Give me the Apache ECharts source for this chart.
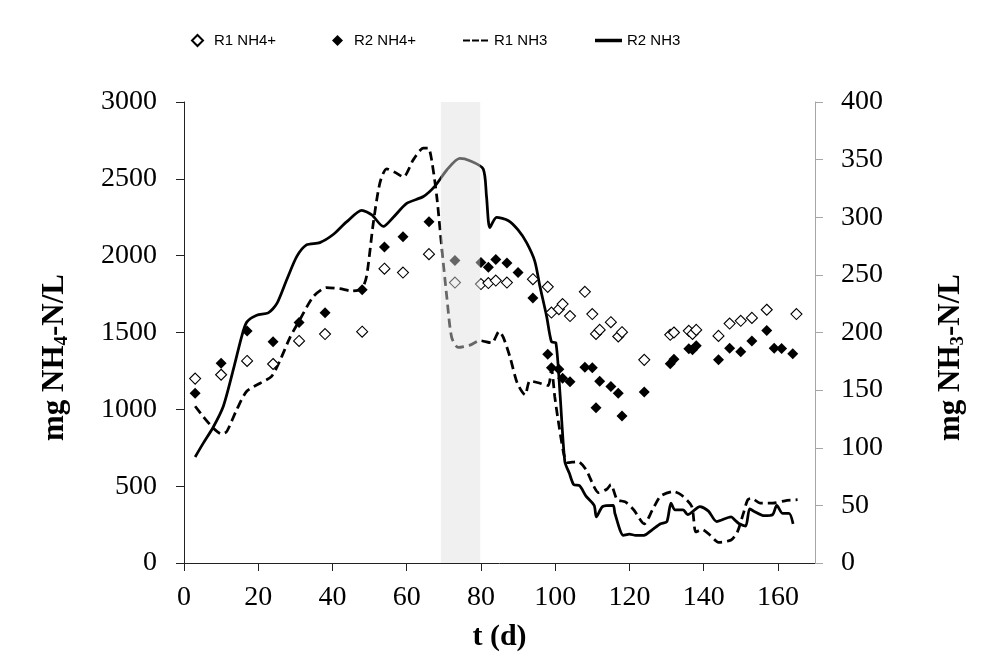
<!DOCTYPE html>
<html>
<head>
<meta charset="utf-8">
<script src="https://cdn.jsdelivr.net/npm/echarts@6/dist/echarts.min.js"></script>
<style>
    html, body { margin: 0; padding: 0; background: #fff; }
    #nh3Chart { width: 1005px; height: 661px; }
</style>
</head>
<body>
<div id="nh3Chart"></div>
<script>
var r1Nh4Days = [3, 10, 17, 24, 31, 38, 48, 54, 59, 66, 73, 80, 82, 84, 87, 94, 98, 99, 101, 102, 104, 108, 110, 111, 112, 115, 117, 118, 124, 131, 132, 136, 137, 138, 144, 147, 150, 153, 157, 165];
var r1Nh4Vals = [1200, 1225, 1315, 1295, 1445, 1490, 1505, 1915, 1890, 2010, 1825, 1815, 1822, 1838, 1825, 1847, 1797, 1630, 1652, 1685, 1607, 1765, 1620, 1491, 1517, 1567, 1474, 1502, 1322, 1485, 1500, 1511, 1491, 1517, 1478, 1558, 1576, 1595, 1648, 1620];

var r2Nh4Days = [3, 10, 17, 24, 31, 38, 48, 54, 59, 66, 73, 80, 82, 84, 87, 90, 94, 98, 99, 101, 102, 104, 108, 110, 111, 112, 115, 117, 118, 124, 131, 132, 136, 137, 138, 144, 147, 150, 153, 157, 159, 161, 164];
var r2Nh4Vals = [1105, 1300, 1509, 1439, 1565, 1628, 1778, 2056, 2123, 2221, 1969, 1956, 1925, 1975, 1952, 1891, 1724, 1359, 1270, 1261, 1203, 1179, 1274, 1270, 1011, 1183, 1148, 1105, 957, 1112, 1296, 1326, 1394, 1387, 1413, 1322, 1398, 1374, 1444, 1513, 1398, 1396, 1361];

var r1Nh3Days = [3, 5.2, 7.9, 10.1, 11.5, 14.2, 16.9, 20.5, 23.6, 25.9, 28.6, 31.2, 34.8, 38.4, 42, 45.2, 47.9, 49.2, 51, 52.8, 54.6, 56.8, 59.1, 61.8, 64.5, 65.8, 66.7, 68.1, 69.4, 70.8, 72.1, 73.9, 77, 79.7, 82.9, 84.9, 86, 87.8, 89.8, 91.9, 93.2, 95.9, 98.1, 99, 99.9, 100.8, 102.3, 103.3, 106.1, 108.3, 110.5, 111.7, 113.9, 115, 116.7, 118.9, 121.2, 124, 126.2, 128.4, 131.8, 134, 136.8, 137.9, 139.6, 141.8, 144, 147.4, 149.1, 150.7, 151.9, 153, 155.2, 158.6, 161.9, 165.3];
var r1Nh3Vals = [136, 127, 117, 112, 114, 133, 149, 156, 162, 176, 196, 211, 231, 239, 238, 236, 238, 249, 295, 330, 342, 339, 335, 350, 360, 360, 350, 318, 275, 231, 196, 187, 189, 193, 191, 201, 196, 179, 156, 146, 158, 156, 154, 168, 144, 124, 95, 87, 88, 81, 66, 61, 64, 68, 55, 53, 46, 34, 46, 58, 62, 59, 49, 27, 29, 24, 18, 20, 27, 43, 55, 56, 52, 52, 54, 55];

var r2Nh3Days = [3, 5.2, 7.9, 10.6, 13.3, 15.5, 16.9, 19.6, 22.7, 25, 27.7, 30.4, 33, 36.6, 40.2, 43.8, 47.9, 50.6, 53.7, 56.4, 60, 64.5, 67.6, 70.8, 74.3, 77, 80.6, 81.5, 82.4, 84.2, 87.4, 90, 92.3, 94.5, 95.9, 97.7, 99, 100.2, 101.3, 102.6, 103.8, 105, 106.6, 108.3, 110.5, 111.1, 112.8, 115.6, 116.1, 118.4, 120, 121.7, 123.9, 126.2, 128.4, 130.1, 131.2, 132.3, 134.5, 135.7, 139, 141.3, 143.5, 147.4, 148.5, 149.6, 151.3, 152.4, 153.5, 156.3, 158.6, 159.7, 161.3, 163, 164.1];
var r2Nh3Vals = [92, 104, 118, 136, 168, 196, 209, 215, 217, 225, 246, 266, 276, 278, 285, 296, 306, 302, 292, 300, 312, 318, 327, 341, 351, 349, 342, 318, 291, 300, 297, 289, 278, 262, 240, 214, 192, 191, 147, 88, 78, 68, 67, 58, 50, 40, 49, 50, 43, 24, 25, 24, 24, 29, 34, 36, 52, 46, 46, 42, 49, 45, 36, 40, 37, 34, 32, 47, 45, 41, 42, 50, 43, 43, 34];

var xTicks = [0, 20, 40, 60, 80, 100, 120, 140, 160];
var shadeDays = [69.2, 79.8];

var serif = "'Liberation Serif', 'Times New Roman', serif";
var sans = "'Liberation Sans', Arial, sans-serif";

function pairs(xs, ys) {
    return xs.map(function (x, i) { return [x, ys[i]]; });
}

function legendAt(name, left, icon, iconW, iconH, textPad) {
    var leg = {
        data: [name],
        left: left,
        top: 33,
        padding: 0,
        itemWidth: iconW,
        itemHeight: iconH,
        selectedMode: false,
        textStyle: {
            fontFamily: sans,
            fontSize: 15,
            color: '#000',
            padding: [0, 0, 0, textPad]
        }
    };
    if (icon) {
        leg.icon = icon;
        leg.itemStyle = { color: '#000', borderWidth: 0 };
    }
    return leg;
}

function createNh3Chart() {
    var dom = document.getElementById("nh3Chart");
    var myChart = echarts.init(dom, null, { renderer: 'canvas' });

    var nameStyle = {
        fontFamily: serif,
        fontSize: 31,
        fontWeight: 'bold',
        color: '#000',
        padding: [0, 50, 0, 0],
        rich: {
            m: { fontFamily: serif, fontSize: 31, fontWeight: 'bold', color: '#000', lineHeight: 33, verticalAlign: 'top' },
            s: { fontFamily: serif, fontSize: 19, fontWeight: 'bold', color: '#000', lineHeight: 21, padding: [17, 0, 0, 0], verticalAlign: 'bottom' }
        }
    };

    // dash icons for the line legends (the line series icon would add a dot)
    var dashIcon = 'path://M0,0h7v2h-7z M9,0h7v2h-7z M18,0h7v2h-7z';
    var solidIcon = 'rect';

    var option = {
        animation: false,
        backgroundColor: '#fff',
        grid: {
            left: 184,
            right: 190,
            top: 102,
            bottom: 98,
            outerBoundsMode: 'none'
        },
        legend: [
            legendAt('R1 NH4+', 191, null, 11, 11, 6),
            legendAt('R2 NH4+', 332, null, 11, 11, 6),
            legendAt('R1 NH3', 463, dashIcon, 25, 3.5, 1),
            legendAt('R2 NH3', 595, solidIcon, 27, 3.5, 0)
        ],
        xAxis: {
            type: 'value',
            min: 0,
            max: 170,
            name: 't (d)',
            nameLocation: 'middle',
            nameGap: 59,
            nameTextStyle: { fontFamily: serif, fontSize: 30, fontWeight: 'bold', color: '#000' },
            splitLine: { show: false },
            axisLine: { show: true, lineStyle: { color: '#222', width: 1 } },
            axisTick: { show: true, length: 8, customValues: xTicks, lineStyle: { color: '#222' } },
            axisLabel: {
                customValues: xTicks,
                margin: 21,
                fontFamily: serif,
                fontSize: 28,
                color: '#000',
                formatter: function (v) { return String(v); }
            }
        },
        yAxis: [
            {
                type: 'value',
                min: 0,
                max: 3000,
                interval: 500,
                position: 'left',
                name: '{m|mg NH}{s|4}{m|-N/L}',
                nameLocation: 'middle',
                nameRotate: 90,
                nameGap: 112,
                nameTextStyle: nameStyle,
                splitLine: { show: false },
                axisLine: { show: true, lineStyle: { color: '#222', width: 1 } },
                axisTick: { show: true, length: 8, lineStyle: { color: '#222' } },
                axisLabel: {
                    margin: 27,
                    fontFamily: serif,
                    fontSize: 28,
                    color: '#000',
                    formatter: function (v) { return String(v); }
                }
            },
            {
                type: 'value',
                min: 0,
                max: 400,
                interval: 50,
                position: 'right',
                name: '{m|mg NH}{s|3}{m|-N/L}',
                nameLocation: 'middle',
                nameRotate: 90,
                nameGap: 120,
                nameTextStyle: nameStyle,
                splitLine: { show: false },
                axisLine: { show: true, lineStyle: { color: '#a6a6a6', width: 1 } },
                axisTick: { show: true, length: 8, lineStyle: { color: '#a6a6a6' } },
                axisLabel: {
                    margin: 26,
                    fontFamily: serif,
                    fontSize: 28,
                    color: '#000',
                    formatter: function (v) { return String(v); }
                }
            }
        ],
        series: [
            {
                name: 'R1 NH4+',
                type: 'scatter',
                yAxisIndex: 0,
                symbol: 'diamond',
                symbolSize: 11,
                z: 4,
                itemStyle: { color: '#fff', borderColor: '#000', borderWidth: 1.1, opacity: 1 },
                data: pairs(r1Nh4Days, r1Nh4Vals)
            },
            {
                name: 'R2 NH4+',
                type: 'scatter',
                yAxisIndex: 0,
                symbol: 'diamond',
                symbolSize: 11,
                z: 4,
                itemStyle: { color: '#000', opacity: 1 },
                data: pairs(r2Nh4Days, r2Nh4Vals)
            },
            {
                name: 'R1 NH3',
                type: 'line',
                yAxisIndex: 1,
                symbol: 'none',
                smooth: 0.25,
                lineStyle: { color: '#000', width: 2.75, type: [9, 5] },
                itemStyle: { color: '#000' },
                data: pairs(r1Nh3Days, r1Nh3Vals)
            },
            {
                name: 'R2 NH3',
                type: 'line',
                yAxisIndex: 1,
                symbol: 'none',
                smooth: 0.25,
                lineStyle: { color: '#000', width: 2.75 },
                itemStyle: { color: '#000' },
                data: pairs(r2Nh3Days, r2Nh3Vals),
                // shaded period lies over the data, so marks inside it look grey
                markArea: {
                    silent: true,
                    z: 10,
                    itemStyle: { color: 'rgba(222,222,222,0.46)' },
                    data: [[{ xAxis: shadeDays[0] }, { xAxis: shadeDays[1] }]]
                }
            }
        ]
    };

    if (option && typeof option === "object") {
        myChart.setOption(option, true);

        window.onresize = function () {
            myChart.resize();
        };
    }
}

createNh3Chart();
</script>
</body>
</html>
